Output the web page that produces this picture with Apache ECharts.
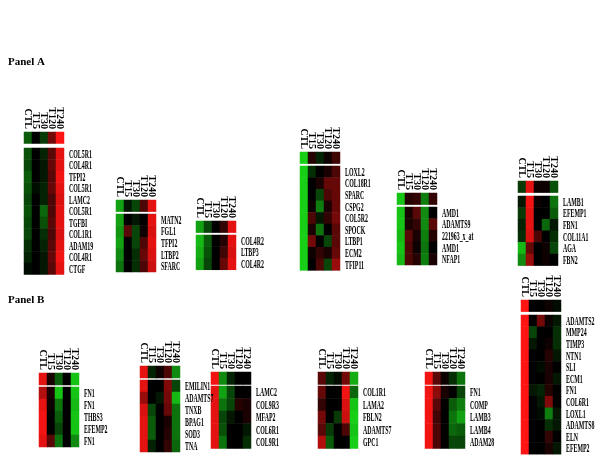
<!DOCTYPE html>
<html><head><meta charset="utf-8">
<script src="https://cdn.jsdelivr.net/npm/echarts@6/dist/echarts.min.js"></script>
<style>html,body{margin:0;padding:0;background:#fff}#c{width:600px;height:457px}</style>
</head><body><div id="c"></div>
<script>
const columns = ['CTL','T15','T30','T120','T240'];

// Panel A
const a1Genes = ['COL5R1','COL4R1','TFPI2','COL5R1','LAMC2','COL5R1','TGFBI','COL1R1','ADAM19','COL4R1','CTGF'];
const a1Header = [-0.4, 0, -0.25, 0.45, 1];
const a1Values = [
 [-0.35,0,-0.15,0.35,0.9],[-0.3,0,-0.1,0.4,0.9],[-0.4,0,-0.1,0.35,0.95],[-0.35,-0.05,-0.15,0.4,0.9],
 [-0.3,0,-0.15,0.3,0.85],[-0.35,0,-0.45,0.3,0.9],[-0.3,0,-0.35,0.35,0.9],[-0.3,0,-0.2,0.3,0.85],
 [-0.2,0,-0.15,0.35,0.9],[-0.15,0,-0.1,0.4,0.95],[-0.05,0,-0.1,0.35,0.9]];
const a2Genes = ['MATN2','FGL1','TFPI2','LTBP2','SFARC'];
const a2Header = [-0.7,-0.1,-0.3,0.3,0.9];
const a2Values = [[-0.7,0,-0.1,0,0.9],[-0.65,0.35,-0.3,0.05,0.85],[-0.7,0,-0.3,0.3,0.9],[-0.6,0,-0.2,0.4,0.85],[-0.5,0,-0.2,0.3,0.8]];
const a3Genes = ['COL4R2','LTBP3','COL4R2'];
const a3Header = [-0.7,-0.3,0,0.2,0.9];
const a3Values = [[-0.8,-0.4,0,0.15,0.9],[-0.75,-0.35,0,0.25,0.85],[-0.7,-0.3,0,0.4,0.9]];
const a4Genes = ['LOXL2','COL18R1','SPARC','CSPG2','COL5R2','SPOCK','LTBP1','ECM2','TFIP11'];
const a4Header = [-0.9,0.15,-0.15,0.05,0.25];
const a4Values = [[-0.9,-0.2,0,0.1,0.3],[-0.9,0,0.1,0.4,0.4],[-0.9,0,-0.3,0.3,0.4],[-0.9,0.05,-0.55,0.1,0.4],
 [-0.9,0.3,-0.1,0.2,0.45],[-0.9,0.1,-0.5,0,0.35],[-0.9,0.45,0,-0.3,0.35],[-0.9,0.05,0.2,0.1,0.4],[-0.9,0,0.3,-0.3,0.6]];
const a5Genes = ['AMD1','ADAMTS9','221963_x_at','AMD1','NFAP1'];
const a5Header = [-0.85,0.15,0.2,-0.55,0.2];
const a5Values = [[-0.85,0.1,0.35,-0.6,0],[-0.85,0.1,0.2,-0.6,0.35],[-0.8,0.35,0.1,-0.55,0.15],[-0.85,0.3,0.05,-0.5,0],[-0.8,0.3,0.15,-0.55,0.1]];
const a6Genes = ['LAMB1','EFEMP1','FBN1','COL11A1','AGA','FBN2'];
const a6Header = [-0.25,0.9,0.05,0.05,-0.35];
const a6Values = [[-0.1,0.95,0.05,0,-0.5],[-0.25,0.9,0,0,-0.4],[-0.15,0.9,0,-0.45,-0.1],[-0.2,0.85,0.3,0,-0.2],[-0.8,0.4,0,0.05,-0.3],[-0.6,0.6,0,0.05,0]];

// Panel B
const b1Genes = ['FN1','FN1','THBS3','EFEMP2','FN1'];
const b1Header = [0.9,0.1,-0.4,0,-0.85];
const b1Values = [[0.7,0.1,-0.85,0,-0.85],[0.9,0.05,-0.5,0,-0.8],[0.95,0,-0.4,0,-0.85],[0.95,0,-0.3,0,-0.85],[0.9,0.35,-0.5,0,-0.6]];
const b2Genes = ['EMILIN1','ADAMTS7','TNXB','BPAG1','SOD3','TNA'];
const b2Header = [0.9,-0.15,0.05,0.3,-0.6];
const b2Values = [[0.9,0,0,0.5,-0.3],[0.6,0,-0.1,0.45,-0.8],[0.85,-0.3,0,0.4,-0.5],[0.9,-0.4,0,0.1,-0.5],[0.9,-0.4,0,0.15,-0.5],[0.9,-0.15,0,0.2,-0.45]];
const b3Genes = ['LAMC2','COL9R3','MFAP2','COL6R1','COL9R1'];
const b3Header = [0.95,-0.6,-0.15,0,0];
const b3Values = [[0.9,-0.7,-0.3,0,0],[0.9,-0.5,-0.3,0.15,0.1],[0.9,-0.3,-0.1,0,0.1],[0.9,-0.35,0,0,-0.1],[0.9,-0.5,0,0,-0.2]];
const b4Genes = ['COL1R1','LAMA2','FBLN2','ADAMTS7','GPC1'];
const b4Header = [0.35,-0.15,-0.05,0.45,-0.75];
const b4Values = [[0.4,0,0,0.95,-0.45],[0.2,0,0,0.85,-0.85],[0.45,0,-0.25,0.8,-0.9],[0.35,-0.25,0,0.3,-0.85],[0.7,-0.4,0,0,-0.9]];
const b5Genes = ['FN1','COMP','LAMB3','LAMB4','ADAM28'];
const b5Header = [0.95,0.35,0.05,-0.2,-0.5];
const b5Values = [[0.95,0.55,0.1,0,-0.3],[0.95,0.35,0,-0.4,-0.55],[0.95,0.25,0,-0.5,-0.7],[0.95,0.3,0,-0.45,-0.4],[0.95,0.3,0,-0.3,-0.3]];
const b6Genes = ['ADAMTS2','MMP24','TIMP3','NTN1','SLI','ECM1','FN1','COL6R1','LOXL1','ADAMTS8','ELN','EFEMP2'];
const b6Header = [1,0,0,0.05,-0.05];
const b6Values = [[1,0,0.45,0.05,-0.1],[1,-0.3,0,0,-0.2],[1,-0.1,0,0.05,-0.2],[1,0,0,0.15,-0.1],[1,0,-0.05,0.1,0],[1,0,0,0.1,-0.1],
 [1,-0.1,-0.15,0.15,0],[1,0,-0.1,0.5,0],[1,0,-0.05,-0.55,-0.1],[1,0,0,-0.2,-0.1],[1,0,0,0.2,0],[1,0,0,0.1,-0.1]];

const panels = [
 {genes:a1Genes, header:a1Header, values:a1Values},
 {genes:a2Genes, header:a2Header, values:a2Values},
 {genes:a3Genes, header:a3Header, values:a3Values},
 {genes:a4Genes, header:a4Header, values:a4Values},
 {genes:a5Genes, header:a5Header, values:a5Values},
 {genes:a6Genes, header:a6Header, values:a6Values},
 {genes:b1Genes, header:b1Header, values:b1Values},
 {genes:b2Genes, header:b2Header, values:b2Values},
 {genes:b3Genes, header:b3Header, values:b3Values},
 {genes:b4Genes, header:b4Header, values:b4Values},
 {genes:b5Genes, header:b5Header, values:b5Values},
 {genes:b6Genes, header:b6Header, values:b6Values}
];
// layout: left, header top, body top, row height
const layout = [
 {x:24, h:132, b:148, r:11.5},
 {x:116, h:200, b:214, r:11.6},
 {x:196, h:221, b:235, r:11.6},
 {x:300, h:152, b:166, r:11.6},
 {x:397, h:193, b:207, r:11.6},
 {x:518, h:181, b:196, r:11.6},
 {x:39, h:373, b:387, r:12},
 {x:140, h:366, b:380, r:12},
 {x:211, h:372, b:386, r:12.5},
 {x:318, h:372, b:386, r:12.5},
 {x:425, h:372, b:386, r:12.5},
 {x:521, h:300, b:315, r:11.6}
];
const COLW = 8;
const serif = '"Liberation Serif", "DejaVu Serif", serif';

const grid=[], xAxis=[], yAxis=[], series=[], heatIdx=[];
panels.forEach((p,i)=>{
  const L = layout[i];
  const gH = grid.length;
  grid.push({left:L.x, top:L.h, width:COLW*5, height:L.r});
  xAxis.push({type:'category', gridIndex:gH, data:columns, position:'top',
    axisLine:{show:false}, axisTick:{show:false}, splitLine:{show:false},
    axisLabel:{rotate:90, margin:3, interval:0, fontSize:10, fontWeight:'bold', fontFamily:serif, color:'#000'}});
  yAxis.push({type:'category', gridIndex:gH, data:['avg'], show:false});
  series.push({type:'heatmap', xAxisIndex:gH, yAxisIndex:gH, silent:true,
    data:p.header.map((v,c)=>[c,0,v])});
  heatIdx.push(series.length-1);

  const gB = grid.length;
  grid.push({left:L.x, top:L.b, width:COLW*5, height:L.r*p.genes.length});
  xAxis.push({type:'category', gridIndex:gB, data:columns, show:false});
  yAxis.push({type:'category', gridIndex:gB, data:p.genes.map((g,k)=>'r'+k), inverse:true, show:false});
  const d=[];
  p.values.forEach((row,k)=>row.forEach((v,c)=>d.push([c,k,v])));
  series.push({type:'heatmap', xAxisIndex:gB, yAxisIndex:gB, silent:true, data:d});
  heatIdx.push(series.length-1);
  series.push({type:'custom', xAxisIndex:gB, yAxisIndex:gB, silent:true, clip:false, z:10,
    data:p.genes.map((g,k)=>[4,k]),
    renderItem:(params,api)=>{
      const pt = api.coord([api.value(0), api.value(1)]);
      const w = api.size([1,0])[0];
      return {type:'text', x:pt[0]+w/2+5, y:pt[1]+1, scaleX:0.49,
        style:{text:p.genes[params.dataIndex], font:'bold 12px '+serif, fill:'#000',
          align:'left', verticalAlign:'middle'}};
    }});
});

const chart = echarts.init(document.getElementById('c'), null, {renderer:'canvas'});
chart.setOption({
  backgroundColor:'#fff',
  animation:false,
  title:[
    {text:'Panel A', left:3, top:52, textStyle:{fontSize:11, fontWeight:'bold', fontFamily:serif, color:'#000'}},
    {text:'Panel B', left:3, top:290, textStyle:{fontSize:11, fontWeight:'bold', fontFamily:serif, color:'#000'}}
  ],
  visualMap:{type:'continuous', min:-1, max:1, show:false, seriesIndex:heatIdx,
    inRange:{color:['#1ae61a','#000000','#ff1414']}},
  grid, xAxis, yAxis, series
});
</script></body></html>
